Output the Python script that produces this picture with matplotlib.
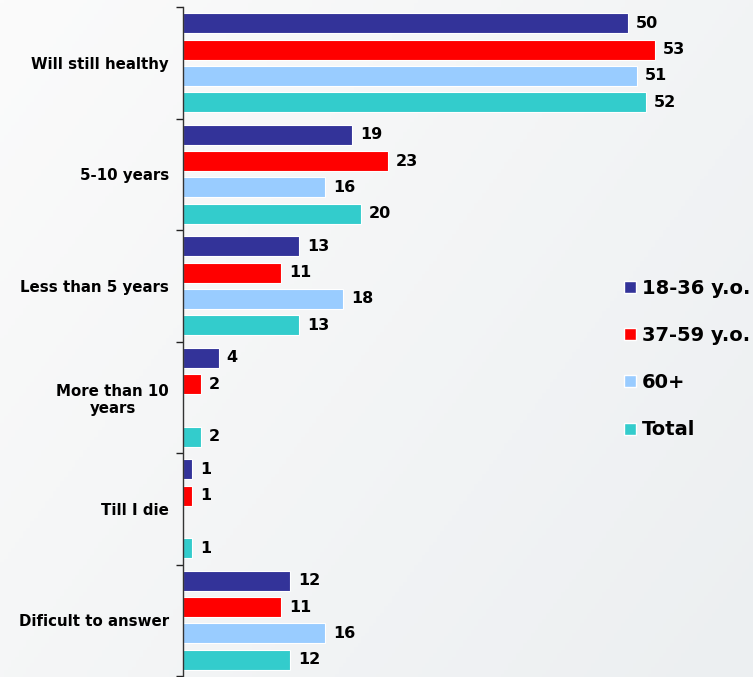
import matplotlib.pyplot as plt
import numpy as np
from matplotlib.lines import Line2D

# data
categories = ['Will still healthy', '5-10 years', 'Less than 5 years',
              'More than 10\nyears', 'Till I die', 'Dificult to answer']
series = ['18-36 y.o.', '37-59 y.o.', '60+', 'Total']
young = [50, 19, 13, 4, 1, 12]
middle = [53, 23, 11, 2, 1, 11]
old = [51, 16, 18, 0, 0, 16]
total = [52, 20, 13, 2, 1, 12]
colors = ['#333399', '#FF0000', '#99CCFF', '#33CCCC']

fig = plt.figure(figsize=(7.53, 6.77), dpi=100)

# background gradient
bg = fig.add_axes([0, 0, 1, 1], zorder=-10)
xx, yy = np.meshgrid(np.linspace(0, 1, 200), np.linspace(0, 1, 200))
t = 0.6 * xx + 0.4 * yy
c0 = np.array([251, 251, 251]) / 255
c1 = np.array([236, 239, 241]) / 255
img = c0[None, None, :] * (1 - t[..., None]) + c1[None, None, :] * t[..., None]
bg.imshow(img, aspect='auto', extent=[0, 1, 0, 1])
bg.axis('off')

ax = fig.add_axes([183 / 753, 1 / 677, 570 / 753, 669 / 677])
ax.patch.set_alpha(0)

y = np.arange(len(categories))
pitch = 0.235
h = 0.18
for k, (vals, col) in enumerate(zip([young, middle, old, total], colors)):
    pos = y + (k - 1.5) * pitch
    for p, v in zip(pos, vals):
        if v == 0:
            continue
        ax.barh(p, v, height=h, color=col, edgecolor='white', linewidth=0.8)
        ax.text(v + 0.9, p, str(v), va='center', ha='left',
                fontsize=11.5, fontweight='bold', color='black')

ax.set_xlim(0, 570 / 8.9)
ax.set_ylim(len(categories) - 0.5, -0.5)

ax.set_yticks(np.arange(-0.5, len(categories), 1))
ax.set_yticklabels([])
ax.set_yticks(y, minor=True)
ax.set_yticklabels(categories, minor=True, fontsize=10.8, fontweight='bold')
for lab in ax.get_yticklabels(minor=True):
    lab.set_multialignment('center')
ax.tick_params(axis='y', which='major', length=5, width=1, direction='out', color='#222222')
ax.tick_params(axis='y', which='minor', length=0, pad=10)
ax.set_xticks([])
for s in ['top', 'right', 'bottom']:
    ax.spines[s].set_visible(False)
ax.spines['left'].set_color('#333333')
ax.spines['left'].set_linewidth(1)

handles = [Line2D([], [], marker='s', linestyle='none', markersize=9,
                  markerfacecolor=c, markeredgecolor='white') for c in colors]
leg = ax.legend(handles, series, loc='upper left',
                bbox_to_anchor=(611 / 753, (677 - 269) / 677), bbox_transform=fig.transFigure,
                frameon=False, prop={'weight': 'bold', 'size': 14},
                labelspacing=1.45, handletextpad=0.1, handlelength=1.0, borderpad=0)

fig.savefig('out.png', dpi=100)
